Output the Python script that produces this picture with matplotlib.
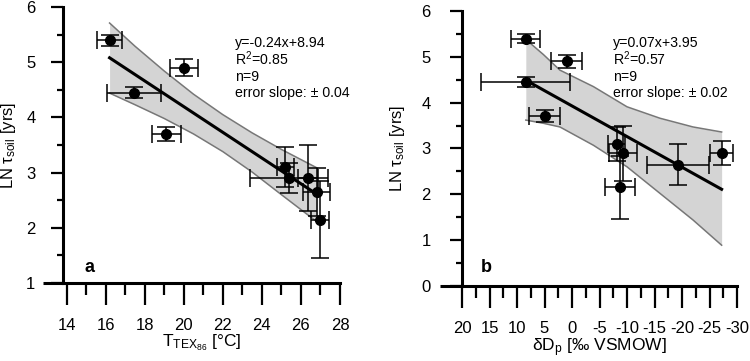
import matplotlib
matplotlib.use('Agg')

import matplotlib.pyplot as plt
from matplotlib.ticker import MultipleLocator

plt.rcParams['font.family'] = 'Liberation Sans'
plt.rcParams['mathtext.fontset'] = 'custom'
plt.rcParams['mathtext.rm'] = 'Liberation Sans'
plt.rcParams['mathtext.it'] = 'Liberation Sans:italic'
plt.rcParams['mathtext.bf'] = 'Liberation Sans:bold'
plt.rcParams['axes.unicode_minus'] = False

# nine samples, same order in both panels
ln_tau = [5.4, 4.9, 4.45, 3.7, 3.1, 2.9, 2.9, 2.65, 2.15]
ln_tau_err = [0.1, 0.15, 0.1, 0.13, 0.37, 0.6, 0.27, 0.44, 0.69]

tex = [16.2, 20.0, 17.45, 19.1, 25.2, 26.35, 25.4, 26.8, 26.98]
tex_err = [0.65, 0.73, 1.4, 0.75, 0.42, 0.5, 2.0, 0.7, 0.47]

dD = [8.4, 1.0, 8.45, 5.0, -8.1, -9.3, -27.2, -19.3, -8.7]
dD_err = [2.65, 2.8, 8.1, 2.85, 1.5, 2.5, 2.1, 5.6, 2.75]

# regression line and confidence band
fit_a_x = [16.2, 26.85]
fit_a_y = [5.08, 2.6]
band_a_x = [16.2, 17.5, 19.0, 20.5, 22.0, 23.5, 25.0, 26.85]
band_a_hi = [5.71, 5.29, 4.84, 4.42, 4.05, 3.72, 3.42, 3.08]
band_a_lo = [4.44, 4.23, 3.98, 3.70, 3.38, 3.01, 2.60, 2.10]

fit_b_x = [8.4, -27.2]
fit_b_y = [4.49, 2.11]
band_b_x = [8.4, 5.2, 2.2, -3.9, -10.0, -16.0, -22.0, -27.2]
band_b_hi = [5.38, 5.05, 4.71, 4.35, 3.91, 3.66, 3.47, 3.36]
band_b_lo = [3.62, 3.55, 3.47, 3.07, 2.60, 2.02, 1.44, 0.89]

stats_a = ['y=-0.24x+8.94', 'R$^{2}$=0.85', 'n=9', 'error slope: ± 0.04']
stats_b = ['y=0.07x+3.95', 'R$^{2}$=0.57', 'n=9', 'error slope: ± 0.02']


def draw_panel(ax, x, xerr, band_x, band_lo, band_hi, fit_x, fit_y):
    ax.fill_between(band_x, band_lo, band_hi, color='#d4d4d4', lw=0, zorder=1)
    ax.plot(band_x, band_hi, color='#777777', lw=1.1, zorder=2)
    ax.plot(band_x, band_lo, color='#777777', lw=1.1, zorder=2)
    ax.plot(fit_x, fit_y, color='black', lw=2.2, zorder=3)
    ax.errorbar(x, ln_tau, xerr=xerr, yerr=ln_tau_err, fmt='o', color='black',
                ms=7, elinewidth=1.1, capsize=6.5, capthick=1.1, zorder=4)


def style_axes(ax, ypad, stub):
    ax.spines['top'].set_visible(False)
    ax.spines['right'].set_visible(False)
    ax.spines['left'].set_linewidth(2.2)
    ax.spines['bottom'].set_linewidth(2.2)
    ax.yaxis.set_major_locator(MultipleLocator(1))
    ax.yaxis.set_minor_locator(MultipleLocator(0.5))
    ax.tick_params(axis='x', which='major', length=15.5, width=1.6, pad=9.5, labelsize=12)
    ax.tick_params(axis='x', which='minor', length=8.5, width=1.6)
    ax.tick_params(axis='y', which='major', length=8.6, width=1.6, pad=ypad, labelsize=12)
    ax.tick_params(axis='y', which='minor', length=4.3, width=1.6)
    # bottom axis line runs a bit past the left axis
    ax.plot([-stub, 0], [0, 0], transform=ax.transAxes, color='black', lw=2.2,
            clip_on=False, solid_capstyle='butt')


fig = plt.figure(figsize=(7.5, 3.61), dpi=100)
ax1 = fig.add_axes([0.0844, 0.2161, 0.3689, 0.7645])
ax2 = fig.add_axes([0.616, 0.2078, 0.3667, 0.7617])

# panel a
draw_panel(ax1, tex, tex_err, band_a_x, band_a_lo, band_a_hi, fit_a_x, fit_a_y)
ax1.set_xlim(13.83, 28)
ax1.set_ylim(1, 6)
ax1.xaxis.set_major_locator(MultipleLocator(2))
ax1.xaxis.set_minor_locator(MultipleLocator(1))
style_axes(ax1, 11.5, 0.072)
ax1.set_xlabel('T$_{\\mathrm{TEX}_{86}}$ [°C]', fontsize=12.5)
ax1.xaxis.set_label_coords(0.5, -0.18)
ax1.set_ylabel('LN τ$_{\\mathrm{soil}}$ [yrs]', fontsize=12)
ax1.yaxis.set_label_coords(-0.165, 0.5)
for yy, s in zip([0.856, 0.790, 0.732, 0.675], stats_a):
    ax1.text(0.62, yy, s, transform=ax1.transAxes, fontsize=10.2, va='baseline')
ax1.text(0.078, 0.04, 'a', transform=ax1.transAxes, fontsize=13, fontweight='bold', va='baseline')

# panel b
draw_panel(ax2, dD, dD_err, band_b_x, band_b_lo, band_b_hi, fit_b_x, fit_b_y)
ax2.set_xlim(20, -30)
ax2.set_ylim(0, 6)
ax2.xaxis.set_major_locator(MultipleLocator(5))
ax2.xaxis.set_minor_locator(MultipleLocator(2.5))
style_axes(ax2, 14, 0.08)
ax2.set_xlabel('δD$_{\\mathrm{p}}$ [‰ VSMOW]', fontsize=12.5)
ax2.xaxis.set_label_coords(0.5, -0.185)
ax2.set_ylabel('LN τ$_{\\mathrm{soil}}$ [yrs]', fontsize=12)
ax2.yaxis.set_label_coords(-0.2, 0.5)
for yy, s in zip([0.870, 0.804, 0.745, 0.688], stats_b):
    ax2.text(0.55, yy, s, transform=ax2.transAxes, fontsize=10.2, va='baseline')
ax2.text(0.07, 0.051, 'b', transform=ax2.transAxes, fontsize=13, fontweight='bold', va='baseline')

fig.savefig('out.png', dpi=100)
plt.close(fig)
